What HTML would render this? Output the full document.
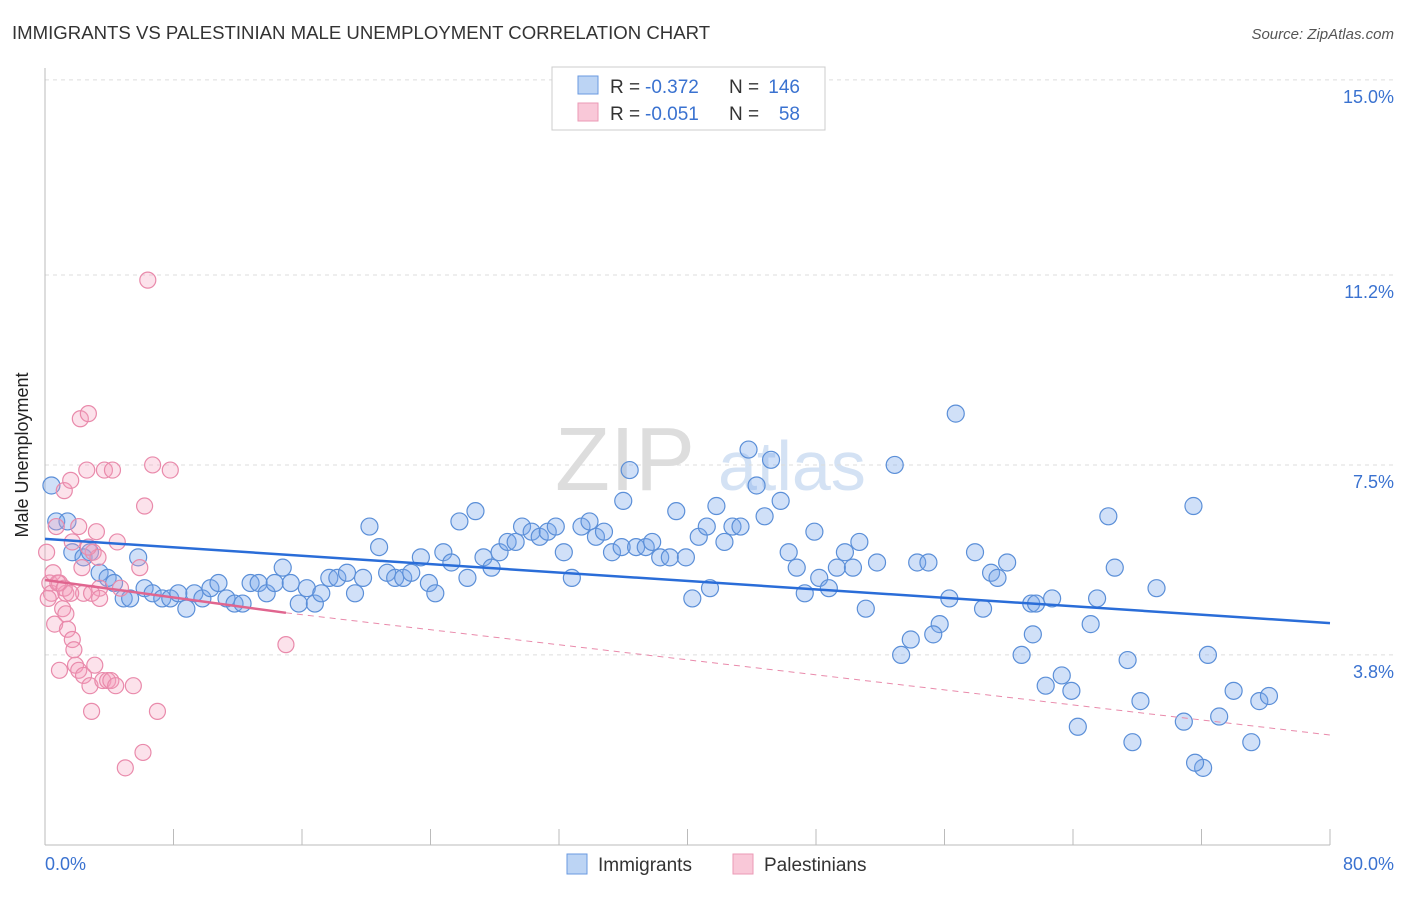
<!DOCTYPE html>
<html><head><meta charset="utf-8"><style>
body{margin:0;background:#fff;font-family:"Liberation Sans",sans-serif}
svg text{font-family:"Liberation Sans",sans-serif}
</style></head><body>
<svg width="1406" height="892" xmlns="http://www.w3.org/2000/svg">
<text x="12" y="39" font-size="18.6" fill="#333">IMMIGRANTS VS PALESTINIAN MALE UNEMPLOYMENT CORRELATION CHART</text>
<text x="1394" y="39" font-size="15" fill="#555" font-style="italic" text-anchor="end">Source: ZipAtlas.com</text>
<text x="555" y="490" font-size="90" fill="#ddd" font-family="Liberation Serif">ZIP</text>
<text x="718" y="490" font-size="70" fill="#d4e2f4">atlas</text>
<g id="grid"></g>
<line x1="45" y1="68" x2="45" y2="845" stroke="#bbb"/>
<line x1="45" y1="845" x2="1330" y2="845" stroke="#bbb"/>
<g id="xticks"></g>
<text x="28" y="455" font-size="18" fill="#222" transform="rotate(-90 28 455)" text-anchor="middle">Male Unemployment</text>
<text x="45" y="870" font-size="18" fill="#3a72d0">0.0%</text>
<text x="1394" y="870" font-size="18" fill="#3a72d0" text-anchor="end">80.0%</text>
<g id="pts"></g>
<g id="trends"></g>
<g>
<rect x="552" y="67" width="273" height="63" fill="#fff" stroke="#ccc"/>
<rect x="578" y="76" width="20" height="18" fill="#bcd4f4" stroke="#6a9ae0"/>
<rect x="578" y="103" width="20" height="18" fill="#f9c8d8" stroke="#eb9ab6"/>
<text x="610" y="93" font-size="19" fill="#333">R =</text>
<text x="645" y="93" font-size="19" fill="#3a72d0">-0.372</text>
<text x="729" y="93" font-size="19" fill="#333">N =</text>
<text x="800" y="93" font-size="19" fill="#3a72d0" text-anchor="end">146</text>
<text x="610" y="120" font-size="19" fill="#333">R =</text>
<text x="645" y="120" font-size="19" fill="#3a72d0">-0.051</text>
<text x="729" y="120" font-size="19" fill="#333">N =</text>
<text x="800" y="120" font-size="19" fill="#3a72d0" text-anchor="end">58</text>
</g>
<g>
<rect x="567" y="854" width="20" height="20" fill="#bcd4f4" stroke="#6a9ae0"/>
<text x="598" y="871" font-size="19" fill="#333">Immigrants</text>
<rect x="733" y="854" width="20" height="20" fill="#f9c8d8" stroke="#eb9ab6"/>
<text x="764" y="871" font-size="19" fill="#333">Palestinians</text>
</g>
</svg>
<script>
const yTicks=[15.0,11.2,7.5,3.8];
const yTickLabels=["15.0%","11.2%","7.5%","3.8%"];
const xTicks=[0,8,16,24,32,40,48,56,64,72,80];
const blueX=[0.4,0.7,1.4,1.7,2.4,2.8,3.4,3.9,4.3,4.9,5.3,5.8,6.2,6.7,7.3,7.8,8.3,8.8,9.3,9.8,10.3,10.8,11.3,11.8,12.3,12.8,13.3,13.8,14.3,14.8,15.3,15.8,16.3,16.8,17.2,17.7,18.2,18.8,19.3,19.8,20.2,20.8,21.3,21.8,22.3,22.8,23.4,23.9,24.3,24.8,25.3,25.8,26.3,26.8,27.3,27.8,28.3,28.8,29.3,29.7,30.3,30.8,31.3,31.8,32.3,32.8,33.4,33.9,34.3,34.8,35.3,35.9,36.4,36.0,36.8,37.4,37.8,38.3,38.9,39.3,39.9,40.3,40.7,41.4,41.2,41.8,42.3,42.8,43.3,43.8,44.3,44.8,45.2,45.8,46.3,46.8,47.3,47.9,48.2,48.8,49.3,49.8,50.3,50.7,51.1,51.8,52.9,53.3,53.9,54.3,55.0,55.7,55.3,56.3,56.7,57.9,58.4,58.9,59.3,59.9,60.8,61.4,61.7,62.3,61.5,62.7,63.3,63.9,64.3,65.1,65.5,66.2,66.6,67.4,67.7,68.2,71.5,72.1,69.2,70.9,71.6,72.4,73.1,74.0,75.1,75.6,76.2,76.8,78.4];
const blueY=[7.1,6.4,6.4,5.8,5.7,5.8,5.4,5.3,5.2,4.9,4.9,5.7,5.1,5.0,4.9,4.9,5.0,4.7,5.0,4.9,5.1,5.2,4.9,4.8,4.8,5.2,5.2,5.0,5.2,5.5,5.2,4.8,5.1,4.8,5.0,5.3,5.3,5.4,5.0,5.3,6.3,5.9,5.4,5.3,5.3,5.4,5.7,5.2,5.0,5.8,5.6,6.4,5.3,6.6,5.7,5.5,5.8,6.0,6.0,6.3,6.2,6.1,6.2,6.3,5.8,5.3,6.3,6.4,6.1,6.2,5.8,5.9,7.4,6.8,5.9,5.9,6.0,5.7,5.7,6.6,5.7,4.9,6.1,5.1,6.3,6.7,6.0,6.3,6.3,7.8,7.1,6.5,7.6,6.8,5.8,5.5,5.0,6.2,5.3,5.1,5.5,5.8,5.5,6.0,4.7,5.6,7.5,3.8,4.1,5.6,5.6,4.4,4.2,4.9,8.5,5.8,4.7,5.4,5.3,5.6,3.8,4.8,4.8,3.2,4.2,4.9,3.4,3.1,2.4,4.4,4.9,6.5,5.5,3.7,2.1,2.9,6.7,1.6,5.1,2.5,1.7,3.8,2.6,3.1,2.1,2.9,3.0];
const pinkX=[0.1,0.3,0.4,0.5,0.6,0.7,0.9,1.1,1.2,1.3,1.4,1.6,1.7,1.8,1.9,2.1,2.2,2.3,2.4,2.6,2.7,2.8,2.9,3.0,3.1,3.2,3.3,3.4,3.6,3.7,3.9,4.1,4.2,4.4,4.5,4.7,5.0,5.5,5.9,6.1,6.2,6.4,6.7,7.0,7.8,15.0,0.9,1.3,1.7,2.1,2.4,2.7,2.9,3.4,0.2,0.8,1.2,1.6];
const pinkY=[5.8,5.2,5.0,5.4,4.4,6.3,5.2,4.7,7.0,4.6,4.3,7.2,4.1,3.9,3.6,3.5,8.4,5.5,3.4,7.4,8.5,3.2,2.7,5.8,3.6,6.2,5.7,5.1,3.3,7.4,3.3,3.3,7.4,3.2,6.0,5.1,1.6,3.2,5.5,1.9,6.7,11.1,7.5,2.7,7.4,4.0,3.5,5.0,6.0,6.3,5.0,5.9,5.0,4.9,4.9,5.2,5.1,5.0];
const trendX=[0,15,80];
const blueTrend=[6.06,5.75,4.42];
const pinkTrend=[5.26,4.62,2.24];
const S='http://www.w3.org/2000/svg';
const X=v=>45+v*16.0625, Y=v=>850-v*51.34;
function mk(t,a,p){const e=document.createElementNS(S,t);for(const k in a)e.setAttribute(k,a[k]);p.appendChild(e);return e;}
const grid=document.getElementById('grid');
yTicks.forEach((t,i)=>{
 const l=mk('line',{x1:45,x2:1394,y1:Y(t),y2:Y(t),stroke:'#ddd','stroke-dasharray':'4,4'},grid);
 
 
 const tx=mk('text',{x:1394,y:Y(t)+23,'font-size':18,fill:'#3a72d0','text-anchor':'end'},grid);
 tx.textContent=yTickLabels[i];
 
 
});
const xt=document.getElementById('xticks');
xTicks.forEach(t=>{
 const l=mk('line',{x1:X(t),x2:X(t),y1:829,y2:845,stroke:'#bbb'},xt);
 
 
});
const pts=document.getElementById('pts');
const nb=Math.min(blueX.length,blueY.length);
for(let i=0;i<nb;i++){
 const c=mk('circle',{cx:X(blueX[i]),cy:Y(blueY[i]),r:8.5,fill:'rgba(120,165,235,0.35)',stroke:'#5b8fd8','stroke-width':1.2},pts);
 
 
}
const np=Math.min(pinkX.length,pinkY.length);
for(let i=0;i<np;i++){
 const c=mk('circle',{cx:X(pinkX[i]),cy:Y(pinkY[i]),r:8,fill:'rgba(245,160,190,0.3)',stroke:'#e98aab','stroke-width':1.2},pts);
 
 
}
const tr=document.getElementById('trends');
const bl=mk('line',{x1:X(trendX[0]),y1:Y(blueTrend[0]),x2:X(trendX[2]),y2:Y(blueTrend[2]),stroke:'#2a6dd8','stroke-width':2.5},tr);


const pd=mk('line',{x1:X(trendX[1]),y1:Y(pinkTrend[1]),x2:X(trendX[2]),y2:Y(pinkTrend[2]),stroke:'#e98aab','stroke-width':1,'stroke-dasharray':'6,5'},tr);


const ps=mk('line',{x1:X(trendX[0]),y1:Y(pinkTrend[0]),x2:X(trendX[1]),y2:Y(pinkTrend[1]),stroke:'#e0658f','stroke-width':2.5},tr);


</script>
</body></html>
